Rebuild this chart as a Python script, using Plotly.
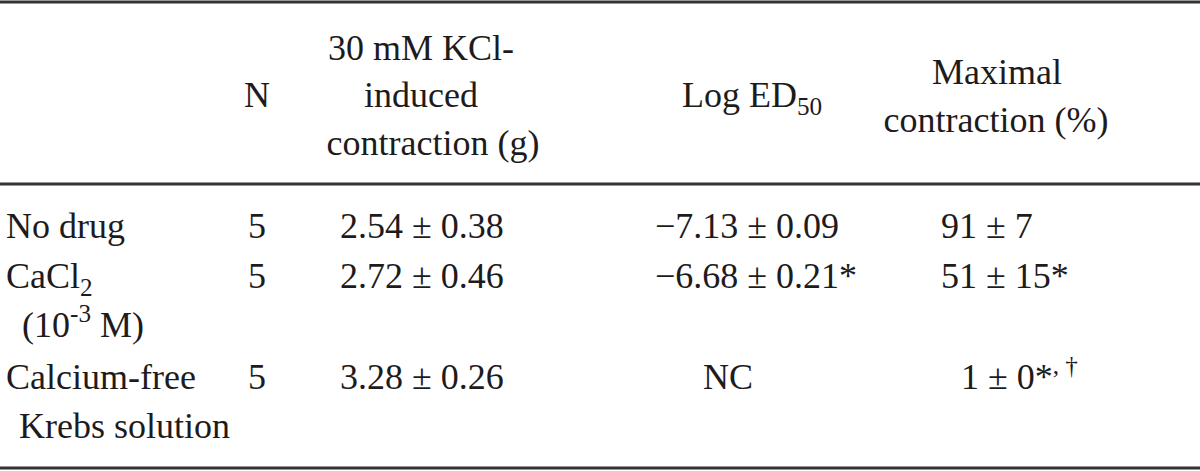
import plotly.graph_objects as go

# ---------------- data ----------------
groups = ["No drug", "CaCl<sub>2</sub>", "Calcium-free"]
group_sublines = ["", "(10<sup>-3</sup> M)", "Krebs solution"]
n_values = [5, 5, 5]
kcl_mean = [2.54, 2.72, 3.28]
kcl_sem = [0.38, 0.46, 0.26]
ed50_mean = [-7.13, -6.68, None]
ed50_sem = [0.09, 0.21, None]
ed50_marks = ["", "*", ""]
maxc_mean = [91, 51, 1]
maxc_sem = [7, 15, 0]
maxc_marks = ["", "*", "*<sup>, †</sup>"]
header_texts = ["N", "30 mM KCl-", "induced", "contraction (g)",
                "Log ED<sub>50</sub>", "Maximal", "contraction (%)"]

# ---------------- layout constants ----------------
W, H = 1200, 471
FONT = "Liberation Serif"
FS = 36
COLOR = "#1e1b1c"
header_x = [257, 421, 421, 433, 752, 997, 996]
header_y = [98, 51, 98, 146, 98, 75, 123]
row_y = [229, 279, 380]
sub_y = [None, 328, 429]


def fmt(v, dec):
    s = f"{abs(v):.{dec}f}"
    return ("\u2212" if v < 0 else "") + s


tf = dict(family=FONT, size=FS, color=COLOR)
fig = go.Figure()

# header
fig.add_trace(go.Scatter(x=header_x, y=header_y, text=header_texts, mode="text",
                         textposition="middle center", textfont=tf,
                         hoverinfo="skip", showlegend=False))

# group labels (left aligned)
gx, gy, gt = [], [], []
for i, g in enumerate(groups):
    gx.append(6); gy.append(row_y[i]); gt.append(g)
    if group_sublines[i]:
        gx.append(19 if i == 2 else 22); gy.append(sub_y[i]); gt.append(group_sublines[i])
fig.add_trace(go.Scatter(x=gx, y=gy, text=gt, mode="text", textposition="middle right",
                         textfont=tf, hoverinfo="skip", showlegend=False))

# N column
fig.add_trace(go.Scatter(x=[257] * len(n_values), y=row_y, text=[str(v) for v in n_values],
                         mode="text", textposition="middle center", textfont=tf,
                         hoverinfo="skip", showlegend=False))

# KCl column
fig.add_trace(go.Scatter(x=[422] * 3, y=row_y,
                         text=[f"{fmt(m, 2)} ± {fmt(s, 2)}" for m, s in zip(kcl_mean, kcl_sem)],
                         mode="text", textposition="middle center", textfont=tf,
                         hoverinfo="skip", showlegend=False))

# Log ED50 column
ex, ey, et, ep = [], [], [], []
for i in range(3):
    if ed50_mean[i] is None:
        ex.append(728); ey.append(row_y[i]); et.append("NC"); ep.append("middle center")
    else:
        ex.append(655); ey.append(row_y[i])
        et.append(f"{fmt(ed50_mean[i], 2)} ± {fmt(ed50_sem[i], 2)}{ed50_marks[i]}")
        ep.append("middle right")
fig.add_trace(go.Scatter(x=ex, y=ey, text=et, mode="text", textposition=ep, textfont=tf,
                         hoverinfo="skip", showlegend=False))

# Maximal contraction column
mx = [941, 941, 961]
fig.add_trace(go.Scatter(x=mx, y=row_y,
                         text=[f"{m} ± {s}{k}" for m, s, k in zip(maxc_mean, maxc_sem, maxc_marks)],
                         mode="text", textposition="middle right", textfont=tf,
                         hoverinfo="skip", showlegend=False))

# rules
for yy in [2, 184, 468]:
    fig.add_shape(type="line", x0=0, x1=W, y0=yy, y1=yy, xref="x", yref="y",
                  line=dict(color="#333333", width=3))

fig.update_layout(
    width=W, height=H, margin=dict(l=0, r=0, t=0, b=0),
    paper_bgcolor="white", plot_bgcolor="white",
    xaxis=dict(range=[0, W], visible=False, fixedrange=True),
    yaxis=dict(range=[H, 0], visible=False, fixedrange=True),
)
fig.write_html("out.html", config={"displayModeBar": False, "staticPlot": True},
               post_script="document.body.style.margin='0';document.body.style.overflow='hidden';")
